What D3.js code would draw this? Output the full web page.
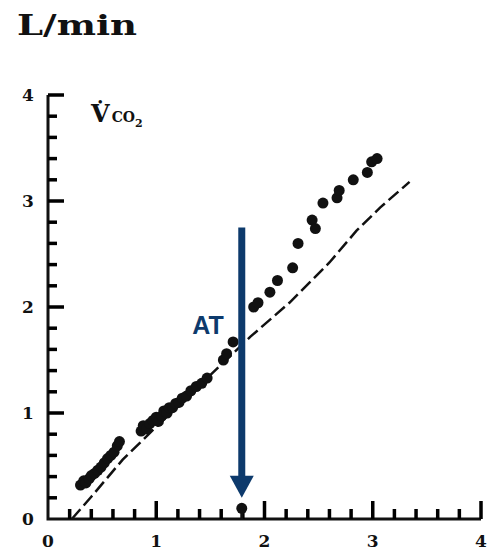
<!DOCTYPE html>
<html>
<head>
<meta charset="utf-8">
<script src="https://cdn.jsdelivr.net/npm/d3@7"></script>
<style>
  body { margin: 0; background: #fff; }
  svg { display: block; }
</style>
</head>
<body>
<div id="container"></div>
<script>
// measured VCO2 points, L/min
let pointX = [0.30, 0.33, 0.35, 0.38, 0.40, 0.43, 0.46, 0.49, 0.52, 0.55, 0.58, 0.61, 0.64, 0.66,
              0.86, 0.88, 0.91, 0.94, 0.97, 1.00, 1.02, 1.05, 1.07, 1.10, 1.12, 1.15, 1.18, 1.21, 1.24, 1.28, 1.32, 1.37, 1.42, 1.47,
              1.62, 1.65, 1.71,
              1.90, 1.94, 2.05, 2.12, 2.26, 2.31, 2.44, 2.47, 2.54, 2.67, 2.69, 2.82, 2.95, 2.99, 3.04]
let pointY = [0.32, 0.36, 0.34, 0.38, 0.41, 0.43, 0.46, 0.49, 0.53, 0.57, 0.60, 0.63, 0.69, 0.73,
              0.83, 0.88, 0.85, 0.90, 0.93, 0.96, 0.92, 0.97, 1.02, 1.00, 1.05, 1.05, 1.09, 1.10, 1.14, 1.16, 1.21, 1.25, 1.28, 1.33,
              1.50, 1.56, 1.67,
              2.00, 2.04, 2.14, 2.25, 2.37, 2.60, 2.82, 2.74, 2.98, 3.03, 3.10, 3.20, 3.27, 3.37, 3.40]

// dashed reference line
let lineX = [0.22, 0.40, 0.69, 1.00, 1.40, 1.87, 2.23, 2.60, 2.85, 3.07, 3.34]
let lineY = [0.00, 0.21, 0.56, 0.87, 1.26, 1.72, 2.04, 2.42, 2.72, 2.94, 3.18]

let majorTicks = [0, 1, 2, 3, 4]
let minorTicks = [0.2, 0.4, 0.6, 0.8, 1.2, 1.4, 1.6, 1.8, 2.2, 2.4, 2.6, 2.8, 3.2, 3.4, 3.6, 3.8]

// anaerobic threshold marker
let atX = 1.79
let atTop = 2.75
let atTip = 0.2
let atDot = 0.11
let atLabel = "AT"

let width = 491
let height = 552
let navy = "#0d3a6c"
let ink = "#111"
let serif = "'DejaVu Serif', serif"

let svg = d3.select("#container")
    .append("svg")
    .attr("width", width)
    .attr("height", height)

let x = d3.scaleLinear().domain([0, 4]).range([48, 481])
let y = d3.scaleLinear().domain([0, 4]).range([519, 95])

// axis lines
svg.append("path")
    .attr("d", `M${x(0)},${y(4)}V${y(0)}H${x(4)}`)
    .attr("fill", "none")
    .attr("stroke", ink)
    .attr("stroke-width", 3)

// ticks, pointing inward
svg.selectAll("rect.ytick")
    .data(minorTicks.map(v => [v, 9]).concat(majorTicks.slice(1).map(v => [v, 16])))
    .join("rect")
        .attr("class", "ytick")
        .attr("x", x(0))
        .attr("y", d => y(d[0]) - 1.75)
        .attr("width", d => d[1])
        .attr("height", 3.5)
        .attr("fill", "#000")
svg.selectAll("rect.xtick")
    .data(minorTicks.map(v => [v, 10]).concat(majorTicks.slice(1).map(v => [v, 18])))
    .join("rect")
        .attr("class", "xtick")
        .attr("x", d => x(d[0]) - 1.75)
        .attr("y", d => y(0) - d[1])
        .attr("width", 3.5)
        .attr("height", d => d[1])
        .attr("fill", "#000")

// tick labels
let labels = svg.append("g")
    .attr("fill", ink)
    .attr("text-anchor", "middle")
    .style("font-family", serif)
    .style("font-weight", "bold")
    .style("font-size", "17px")
labels.selectAll("text.yl")
    .data(majorTicks)
    .join("text")
        .attr("class", "yl")
        .attr("x", x(0) - 20)
        .attr("y", d => y(d))
        .attr("dy", "0.35em")
        .text(d3.format("d"))
labels.selectAll("text.xl")
    .data(majorTicks)
    .join("text")
        .attr("class", "xl")
        .attr("x", d => x(d))
        .attr("y", y(0) + 28)
        .text(d3.format("d"))

// dashed line
let lineData = lineX.map((v, i) => [v, lineY[i]])
svg.append("path")
    .datum(lineData)
    .attr("fill", "none")
    .attr("stroke", ink)
    .attr("stroke-width", 2.5)
    .attr("stroke-dasharray", "13,5")
    .attr("d", d3.line().x(d => x(d[0])).y(d => y(d[1])))

// points
svg.append("g")
    .attr("fill", ink)
    .selectAll("circle")
    .data(pointX.map((v, i) => ({x: v, y: pointY[i]})))
    .join("circle")
        .attr("cx", d => x(d.x))
        .attr("cy", d => y(d.y))
        .attr("r", 5.5)

// AT dot on the axis
svg.append("circle")
    .attr("cx", x(atX))
    .attr("cy", y(atDot) + 1)
    .attr("r", 5.5)
    .attr("fill", ink)
svg.append("path")
    .attr("d", `M${x(atX)},${y(atDot)}V${y(0)}`)
    .attr("stroke", ink)
    .attr("stroke-width", 3)

// AT arrow
let headH = 22, headW = 24
svg.append("path")
    .attr("d", `M${x(atX)},${y(atTop)}V${y(atTip) - headH + 2}`)
    .attr("stroke", navy)
    .attr("stroke-width", 7)
svg.append("path")
    .attr("fill", navy)
    .attr("d", `M${x(atX) - headW / 2},${y(atTip) - headH} L${x(atX) + headW / 2},${y(atTip) - headH} L${x(atX)},${y(atTip)} Z`)
svg.append("text")
    .attr("x", x(atX) - 18)
    .attr("y", y(1.75))
    .attr("text-anchor", "end")
    .attr("fill", navy)
    .style("font-family", "'Liberation Sans', Arial, sans-serif")
    .style("font-weight", "bold")
    .style("font-size", "25px")
    .text(atLabel)

// unit and quantity labels
svg.append("text")
    .attr("x", 17)
    .attr("y", 35)
    .attr("textLength", 120)
    .attr("lengthAdjust", "spacingAndGlyphs")
    .attr("fill", ink)
    .style("font-family", serif)
    .style("font-weight", "bold")
    .style("font-size", "28px")
    .text("L/min")

let q = svg.append("text")
    .attr("x", 91)
    .attr("y", 122)
    .attr("fill", ink)
    .style("font-family", serif)
    .style("font-weight", "bold")
q.append("tspan").style("font-size", "24px").text("V\u0307")
q.append("tspan").style("font-size", "14px").attr("dx", 2).text("CO")
q.append("tspan").style("font-size", "11px").attr("dy", 5).text("2")
</script>
</body>
</html>
